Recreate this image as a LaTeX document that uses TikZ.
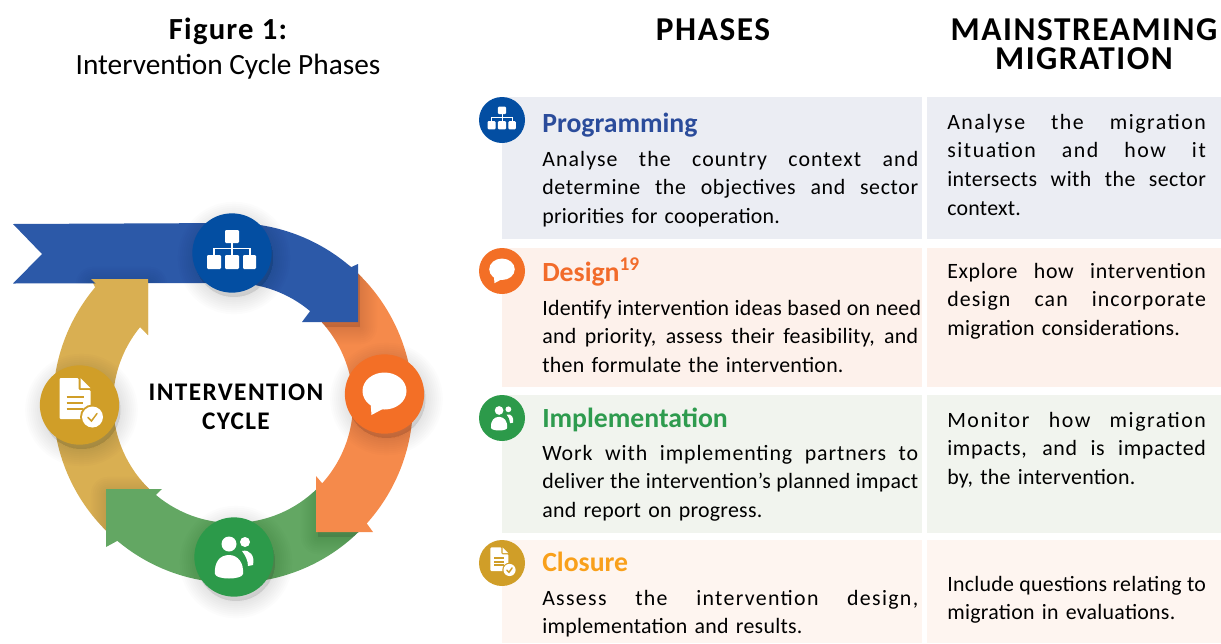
\documentclass[tikz,border=0pt]{standalone}
\usepackage{fontspec}
\setmainfont{Carlito}
\usepackage{xcolor}

\definecolor{progBlue}{HTML}{2C59A8}
\definecolor{progDisc}{HTML}{034EA2}
\definecolor{progHead}{HTML}{2B4C9B}
\definecolor{progPanel}{HTML}{EBEDF3}
\definecolor{desOrange}{HTML}{F58A4B}
\definecolor{desDisc}{HTML}{F36F26}
\definecolor{desHead}{HTML}{F26B2A}
\definecolor{desPanel}{HTML}{FDF1EB}
\definecolor{impGreen}{HTML}{63A763}
\definecolor{impDisc}{HTML}{2C9A4A}
\definecolor{impHead}{HTML}{2E9B4E}
\definecolor{impPanel}{HTML}{F1F4EE}
\definecolor{cloGold}{HTML}{D9AF52}
\definecolor{cloDisc}{HTML}{D09E28}
\definecolor{cloHead}{HTML}{F9A01B}
\definecolor{cloPanel}{HTML}{FEF5F0}

\newcommand{\softshadow}[1]{\foreach \sw in {2,5,...,26}{\draw[black,fill=black,opacity=.012,line width=\sw pt,line join=round,shift={(2,5)}] #1;}}
\newcommand{\tracked}[1]{\addfontfeatures{LetterSpace=#1}}
\newcommand{\jlA}[2][1.2]{\makebox[282pt][s]{\tracked{#1}\spaceskip=.25em plus 1fil\relax #2}}
\newcommand{\jlB}[2][1.2]{\makebox[194pt][s]{\tracked{#1}\spaceskip=.25em plus 1fil\relax #2}}

\tikzset{
  bigdisc/.style={circle,inner sep=0pt,minimum size=59.5pt},
  smalldisc/.style={circle,inner sep=0pt,minimum size=34.5pt},
  phasehead/.style={anchor=base west,inner sep=0pt,font=\fontsize{20.8}{22}\selectfont\bfseries},
  bodyA/.style={anchor=north west,inner sep=0pt,text width=282pt,align=left,font=\fontsize{16.4}{21.4}\selectfont\tracked{1.2}},
  bodyB/.style={anchor=north west,inner sep=0pt,text width=194pt,align=left,font=\fontsize{16.4}{21.4}\selectfont\tracked{1.2}},
  colhead/.style={align=center,inner sep=0pt,font=\fontsize{25}{22}\selectfont\bfseries\tracked{4.6}},
  orgicon/.pic={
    \fill[white,rounded corners=0.8] (-7,-23) rectangle (7,-10);
    \fill[white,rounded corners=0.8] (-25,2) rectangle (-11,16);
    \fill[white,rounded corners=0.8] (-7,2) rectangle (7,16);
    \fill[white,rounded corners=0.8] (11,2) rectangle (24,16);
    \fill[white] (-0.6,-10) rectangle (0.6,2);
    \fill[white] (-18.6,-5) rectangle (18.6,-3.8);
    \fill[white] (-18.6,-5) rectangle (-17.4,2);
    \fill[white] (17.4,-5) rectangle (18.6,2);
  },
  bubbleicon/.pic={
    \fill[white] (0,-3) ellipse [x radius=22,y radius=18.5];
    \fill[white] (-14,8) -- (-13,21) -- (0,14) -- cycle;
  },
  peopleicon/.pic={
    \fill[white] (-5,-13) circle [radius=7.5];
    \fill[white] (11,-15) circle [radius=5];
    \fill[white] (-19,17) .. controls (-20,5) and (-14,-2) .. (-5,-2) .. controls (4,-2) and (10,6) .. (9,17) .. controls (8,23) and (-18,23) .. (-19,17) -- cycle;
    \fill[white] (8,-6) .. controls (16,-8) and (21,-1) .. (19,8) -- (14,9) .. controls (14,3) and (11,-2) .. (8,-6) -- cycle;
  },
  docicon/.pic={
    \fill[white,rounded corners=0.8] (-20,-27) -- (-1,-27) -- (-1,-15) -- (11,-15) -- (11,14) -- (-20,14) -- cycle;
    \fill[white] (1,-27) -- (11,-17) -- (1,-17) -- cycle;
    \draw[cloDisc,line width=1.4] (-13,-8) -- (4,-8);
    \draw[cloDisc,line width=1.4] (-13,-2) -- (3,-2);
    \draw[cloDisc,line width=1.4] (-13,4) -- (3,4);
    \fill[cloDisc] (13,12) circle [radius=12.5];
    \fill[white] (13,12) circle [radius=10.5];
    \draw[cloDisc,line width=1.1,line cap=round] (8.5,12.5) -- (12,16) -- (17.5,8.5);
  },
}

\newcommand{\goldpath}{(117.3,540.9) arc[start angle=130,end angle=220,radius=180] -- (91,279) -- (148,279) -- (148,335) -- (141.1,325.9) arc[start angle=220,end angle=130,radius=120] -- cycle}
\newcommand{\goldhead}{(91,279) -- (148,279) -- (148,335) -- cycle}
\newcommand{\greenpath}{(366.8,523.4) arc[start angle=42,end angle=130,radius=180] -- (106,547) -- (106,489) -- (162,489) -- (155.9,494.9) arc[start angle=130,end angle=42,radius=120] -- cycle}
\newcommand{\orangepath}{(348.7,265.1) arc[start angle=-50,end angle=42,radius=180] -- (373,532) -- (316,532) -- (316,476) -- (322.2,483.3) arc[start angle=42,end angle=-50,radius=120] -- cycle}
\newcommand{\bluepath}{(13,224) -- (233,223) arc[start angle=-90,end angle=-49,radius=180] -- (358,264) -- (358,322) -- (302,322) -- (310.1,311.1) arc[start angle=-50,end angle=-90,radius=120] -- (13,283.5) -- (42,254) -- cycle}

\begin{document}
\begin{tikzpicture}[x=0.75pt,y=0.75pt,yscale=-1,xscale=1]
    \useasboundingbox (0,0) rectangle (1221,643);

    %Panels
    \fill[progPanel] (502,97) rectangle (922,239);
    \fill[progPanel] (927,97) rectangle (1221,239);
    \fill[desPanel] (502,248) rectangle (922,387);
    \fill[desPanel] (927,248) rectangle (1221,387);
    \fill[impPanel] (502,395) rectangle (922,533);
    \fill[impPanel] (927,395) rectangle (1221,533);
    \fill[cloPanel] (502,540) rectangle (922,643);
    \fill[cloPanel] (927,540) rectangle (1221,643);

    %Ring of arrows, each one shading the next
    \fill[cloGold] \goldpath;
    \begin{scope}
      \clip \goldpath;
      \softshadow{\greenpath}
    \end{scope}
    \fill[impGreen] \greenpath;
    \begin{scope}
      \clip \greenpath;
      \softshadow{\orangepath}
    \end{scope}
    \fill[desOrange] \orangepath;
    \begin{scope}
      \clip \orangepath;
      \softshadow{\bluepath}
    \end{scope}
    \fill[progBlue] \bluepath;
    \begin{scope}
      \clip \bluepath;
      \softshadow{\goldhead}
    \end{scope}
    \fill[cloGold] \goldhead;

    %Disc shadows
    \softshadow{(232,253) circle [radius=39]}
    \softshadow{(384.5,394) circle [radius=39]}
    \softshadow{(234,557) circle [radius=39]}
    \softshadow{(79.5,405) circle [radius=39]}

    %Discs on the ring
    \draw (232,253) node [bigdisc,fill=progDisc] (discProg) {};
    \draw (384.5,394) node [bigdisc,fill=desDisc] (discDes) {};
    \draw (234,557) node [bigdisc,fill=impDisc] (discImp) {};
    \draw (79.5,405) node [bigdisc,fill=cloDisc] (discClo) {};
    \draw (discProg) pic [yscale=-1] {orgicon};
    \draw (discDes) pic [yscale=-1] {bubbleicon};
    \draw (discImp) pic [yscale=-1] {peopleicon};
    \draw (discClo) pic [yscale=-1] {docicon};

    %Discs on the panels
    \draw (502,120) node [smalldisc,fill=progDisc] (markProg) {};
    \draw (502,271) node [smalldisc,fill=desDisc] (markDes) {};
    \draw (502,418) node [smalldisc,fill=impDisc] (markImp) {};
    \draw (502,563) node [smalldisc,fill=cloDisc] (markClo) {};
    \draw (markProg) pic [scale=.58,yscale=-1] {orgicon};
    \draw (markDes) pic [scale=.58,yscale=-1] {bubbleicon};
    \draw (markImp) pic [scale=.58,yscale=-1] {peopleicon};
    \draw (markClo) pic [scale=.58,yscale=-1] {docicon};

    % Text Node
    \draw (228,31) node [inner sep=0pt,font=\fontsize{23}{22}\selectfont\bfseries\tracked{4}] (figNo) {Figure 1:};
    % Text Node
    \draw (228,67) node [inner sep=0pt,font=\fontsize{22}{22}\selectfont] (figName) {Intervention Cycle Phases};
    % Text Node
    \draw (713,30) node [colhead] (headPhases) {PHASES};
    % Text Node
    \draw (1084,44) node [colhead] (headMain) {MAINSTREAMING\\MIGRATION};
    % Text Node
    \draw (236,406.5) node [align=center,inner sep=0pt,font=\fontsize{19}{22}\selectfont\bfseries\tracked{5.5}] (ringName) {INTERVENTION\\CYCLE};

    % Text Node
    \draw (542,132) node [phasehead,text=progHead] (nameProg) {Programming};
    \draw (542,281) node [phasehead,text=desHead] (nameDes) {Design\textsuperscript{19}};
    \draw (542,427) node [phasehead,text=impHead] (nameImp) {Implementation};
    \draw (542,571) node [phasehead,text=cloHead] (nameClo) {Closure};

    % Text Node
    \draw (542,151) node [bodyA] (textProg) {\jlA[5]{Analyse the country context and}\\\jlA[3]{determine the objectives and sector}\\priorities for cooperation.};
    \draw (542,300) node [bodyA] (textDes) {\jlA{Identify intervention ideas based on need}\\\jlA{and priority, assess their feasibility, and}\\then formulate the intervention.};
    \draw (542,445) node [bodyA] (textImp) {\jlA[4]{Work with implementing partners to}\\\jlA{deliver the intervention’s planned impact}\\and report on progress.};
    \draw (542,590) node [bodyA] (textClo) {\jlA[6]{Assess the intervention design,}\\implementation and results.};

    % Text Node
    \draw (947,114) node [bodyB] (mainProg) {\jlB[7]{Analyse the migration}\\\jlB[7]{situation and how it}\\\jlB[2]{intersects with the sector}\\context.};
    \draw (947,263) node [bodyB] (mainDes) {\jlB[3]{Explore how intervention}\\\jlB[5]{design can incorporate}\\migration considerations.};
    \draw (947,412) node [bodyB] (mainImp) {\jlB[7]{Monitor how migration}\\\jlB[3]{impacts, and is impacted}\\by, the intervention.};
    \draw (947,576) node [bodyB] (mainClo) {\jlB{Include questions relating to}\\migration in evaluations.};

\end{tikzpicture}
\end{document}
